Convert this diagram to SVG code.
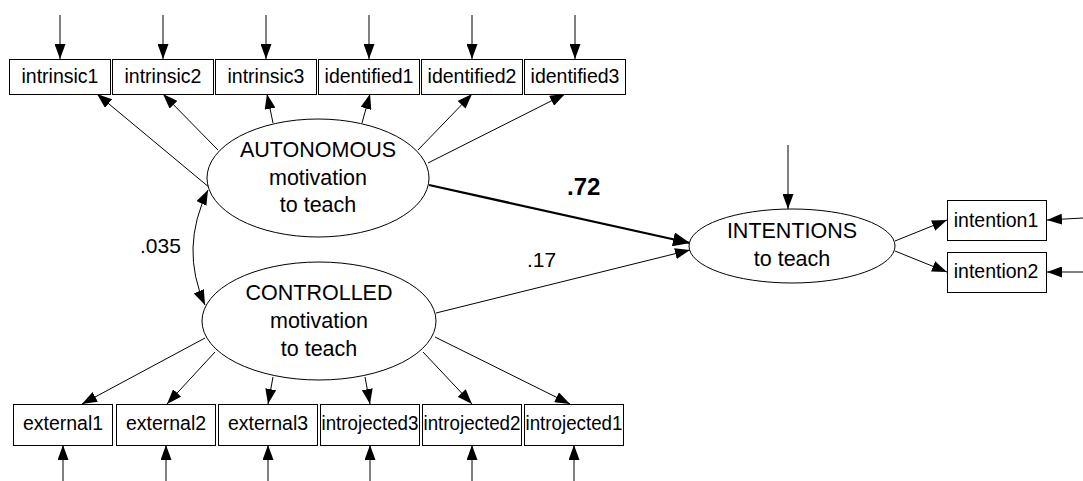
<svg xmlns="http://www.w3.org/2000/svg" width="1083" height="481" viewBox="0 0 1083 481">
<style>
.box{fill:#fff;stroke:#000;stroke-width:1}
.ell{fill:#fff;stroke:#000;stroke-width:1}
.bt{font-family:"Liberation Sans",Arial,sans-serif;font-size:19.5px;text-anchor:middle;fill:#000}
.et{font-family:"Liberation Sans",Arial,sans-serif;font-size:21.5px;text-anchor:middle;fill:#000}
.lbl{font-family:"Liberation Sans",Arial,sans-serif;font-size:21px;fill:#000}
.ln{stroke:#000;stroke-width:1;fill:none;marker-end:url(#ah)}
</style>
<defs>
<marker id="ah" markerUnits="userSpaceOnUse" markerWidth="15" markerHeight="11" refX="15" refY="5.5" orient="auto"><path d="M0,0 L15,5.5 L0,11 z" fill="#000"/></marker>
<marker id="ahb" markerUnits="userSpaceOnUse" markerWidth="17" markerHeight="14" refX="17" refY="7" orient="auto"><path d="M0,0 L17,7 L0,14 z" fill="#000"/></marker>
<marker id="ahs" markerUnits="userSpaceOnUse" markerWidth="15" markerHeight="11" refX="15" refY="5.5" orient="auto-start-reverse"><path d="M0,0 L15,5.5 L0,11 z" fill="#000"/></marker>
</defs>
<g id="connectors">
<line class="ln" x1="60" y1="15" x2="60" y2="59"/>
<line class="ln" x1="163" y1="15" x2="163" y2="59"/>
<line class="ln" x1="266" y1="15" x2="266" y2="59"/>
<line class="ln" x1="369" y1="15" x2="369" y2="59"/>
<line class="ln" x1="472" y1="15" x2="472" y2="59"/>
<line class="ln" x1="575" y1="15" x2="575" y2="59"/>
<line class="ln" x1="63" y1="481" x2="63" y2="445"/>
<line class="ln" x1="166" y1="481" x2="166" y2="445"/>
<line class="ln" x1="268" y1="481" x2="268" y2="445"/>
<line class="ln" x1="370" y1="481" x2="370" y2="445"/>
<line class="ln" x1="472" y1="481" x2="472" y2="445"/>
<line class="ln" x1="574" y1="481" x2="574" y2="445"/>
<line class="ln" x1="210" y1="188" x2="97" y2="94"/>
<line class="ln" x1="218" y1="150" x2="163" y2="94"/>
<line class="ln" x1="273" y1="123" x2="267" y2="94"/>
<line class="ln" x1="362" y1="123" x2="370" y2="94"/>
<line class="ln" x1="418" y1="150" x2="472" y2="94"/>
<line class="ln" x1="428" y1="163" x2="565" y2="94"/>
<line class="ln" x1="205" y1="338" x2="82" y2="404"/>
<line class="ln" x1="215" y1="352" x2="167" y2="404"/>
<line class="ln" x1="273" y1="377" x2="268" y2="404"/>
<line class="ln" x1="365" y1="377" x2="370" y2="404"/>
<line class="ln" x1="423" y1="352" x2="472" y2="404"/>
<line class="ln" x1="435" y1="337" x2="570" y2="404"/>
<path d="M208,190 Q179.5,248.5 205,305" stroke="#000" stroke-width="1" fill="none" marker-start="url(#ahs)" marker-end="url(#ahs)"/>
<line x1="429" y1="185" x2="690" y2="243" stroke="#000" stroke-width="2.2" marker-end="url(#ahb)"/>
<line class="ln" x1="436" y1="313" x2="690" y2="250"/>
<line class="ln" x1="788" y1="145" x2="788" y2="209"/>
<line class="ln" x1="895" y1="241" x2="947" y2="220"/>
<line class="ln" x1="895" y1="251" x2="947" y2="272"/>
<line class="ln" x1="1083" y1="218" x2="1047" y2="220"/>
<line class="ln" x1="1083" y1="272" x2="1047" y2="272"/>
</g>
<g id="intrinsic1"><rect class="box" x="9.5" y="59.5" width="101" height="35"/><text class="bt" x="60" y="83">intrinsic1</text></g>
<g id="intrinsic2"><rect class="box" x="112.5" y="59.5" width="101" height="35"/><text class="bt" x="163" y="83">intrinsic2</text></g>
<g id="intrinsic3"><rect class="box" x="215.5" y="59.5" width="101" height="35"/><text class="bt" x="266" y="83">intrinsic3</text></g>
<g id="identified1"><rect class="box" x="318.5" y="59.5" width="101" height="35"/><text class="bt" x="369" y="83">identified1</text></g>
<g id="identified2"><rect class="box" x="421.5" y="59.5" width="101" height="35"/><text class="bt" x="472" y="83">identified2</text></g>
<g id="identified3"><rect class="box" x="524.5" y="59.5" width="101" height="35"/><text class="bt" x="575" y="83">identified3</text></g>
<g id="external1"><rect class="box" x="13.5" y="404.5" width="99" height="41"/><text class="bt" x="63" y="430">external1</text></g>
<g id="external2"><rect class="box" x="116.5" y="404.5" width="99" height="41"/><text class="bt" x="166" y="430">external2</text></g>
<g id="external3"><rect class="box" x="218.5" y="404.5" width="99" height="41"/><text class="bt" x="268" y="430">external3</text></g>
<g id="introjected3"><rect class="box" x="320.5" y="404.5" width="99" height="41"/><text class="bt" x="370" y="430" textLength="97" lengthAdjust="spacingAndGlyphs">introjected3</text></g>
<g id="introjected2"><rect class="box" x="422.5" y="404.5" width="99" height="41"/><text class="bt" x="472" y="430" textLength="97" lengthAdjust="spacingAndGlyphs">introjected2</text></g>
<g id="introjected1"><rect class="box" x="524.5" y="404.5" width="99" height="41"/><text class="bt" x="574" y="430" textLength="97" lengthAdjust="spacingAndGlyphs">introjected1</text></g>
<g id="autonomous"><ellipse class="ell" cx="318" cy="178" rx="111" ry="59"/><text class="et" x="318" y="157">AUTONOMOUS</text><text class="et" x="318" y="185">motivation</text><text class="et" x="318" y="212">to teach</text></g>
<g id="controlled"><ellipse class="ell" cx="319" cy="321" rx="117" ry="59"/><text class="et" x="319" y="300">CONTROLLED</text><text class="et" x="319" y="328">motivation</text><text class="et" x="319" y="356">to teach</text></g>
<g id="intentions"><ellipse class="ell" cx="792" cy="246" rx="103" ry="37"/><text class="et" x="792" y="238">INTENTIONS</text><text class="et" x="792" y="266">to teach</text></g>
<g id="intention1"><rect class="box" x="947.5" y="200.5" width="99" height="40"/><text class="bt" x="996" y="227">intention1</text></g>
<g id="intention2"><rect class="box" x="947.5" y="252.5" width="99" height="40"/><text class="bt" x="996" y="278">intention2</text></g>
<g id="labels">
<text class="lbl" x="140" y="253">.035</text>
<text class="lbl" x="527" y="267">.17</text>
<text class="lbl" x="567" y="195" style="font-size:24px;font-weight:bold">.72</text>
</g>
</svg>
